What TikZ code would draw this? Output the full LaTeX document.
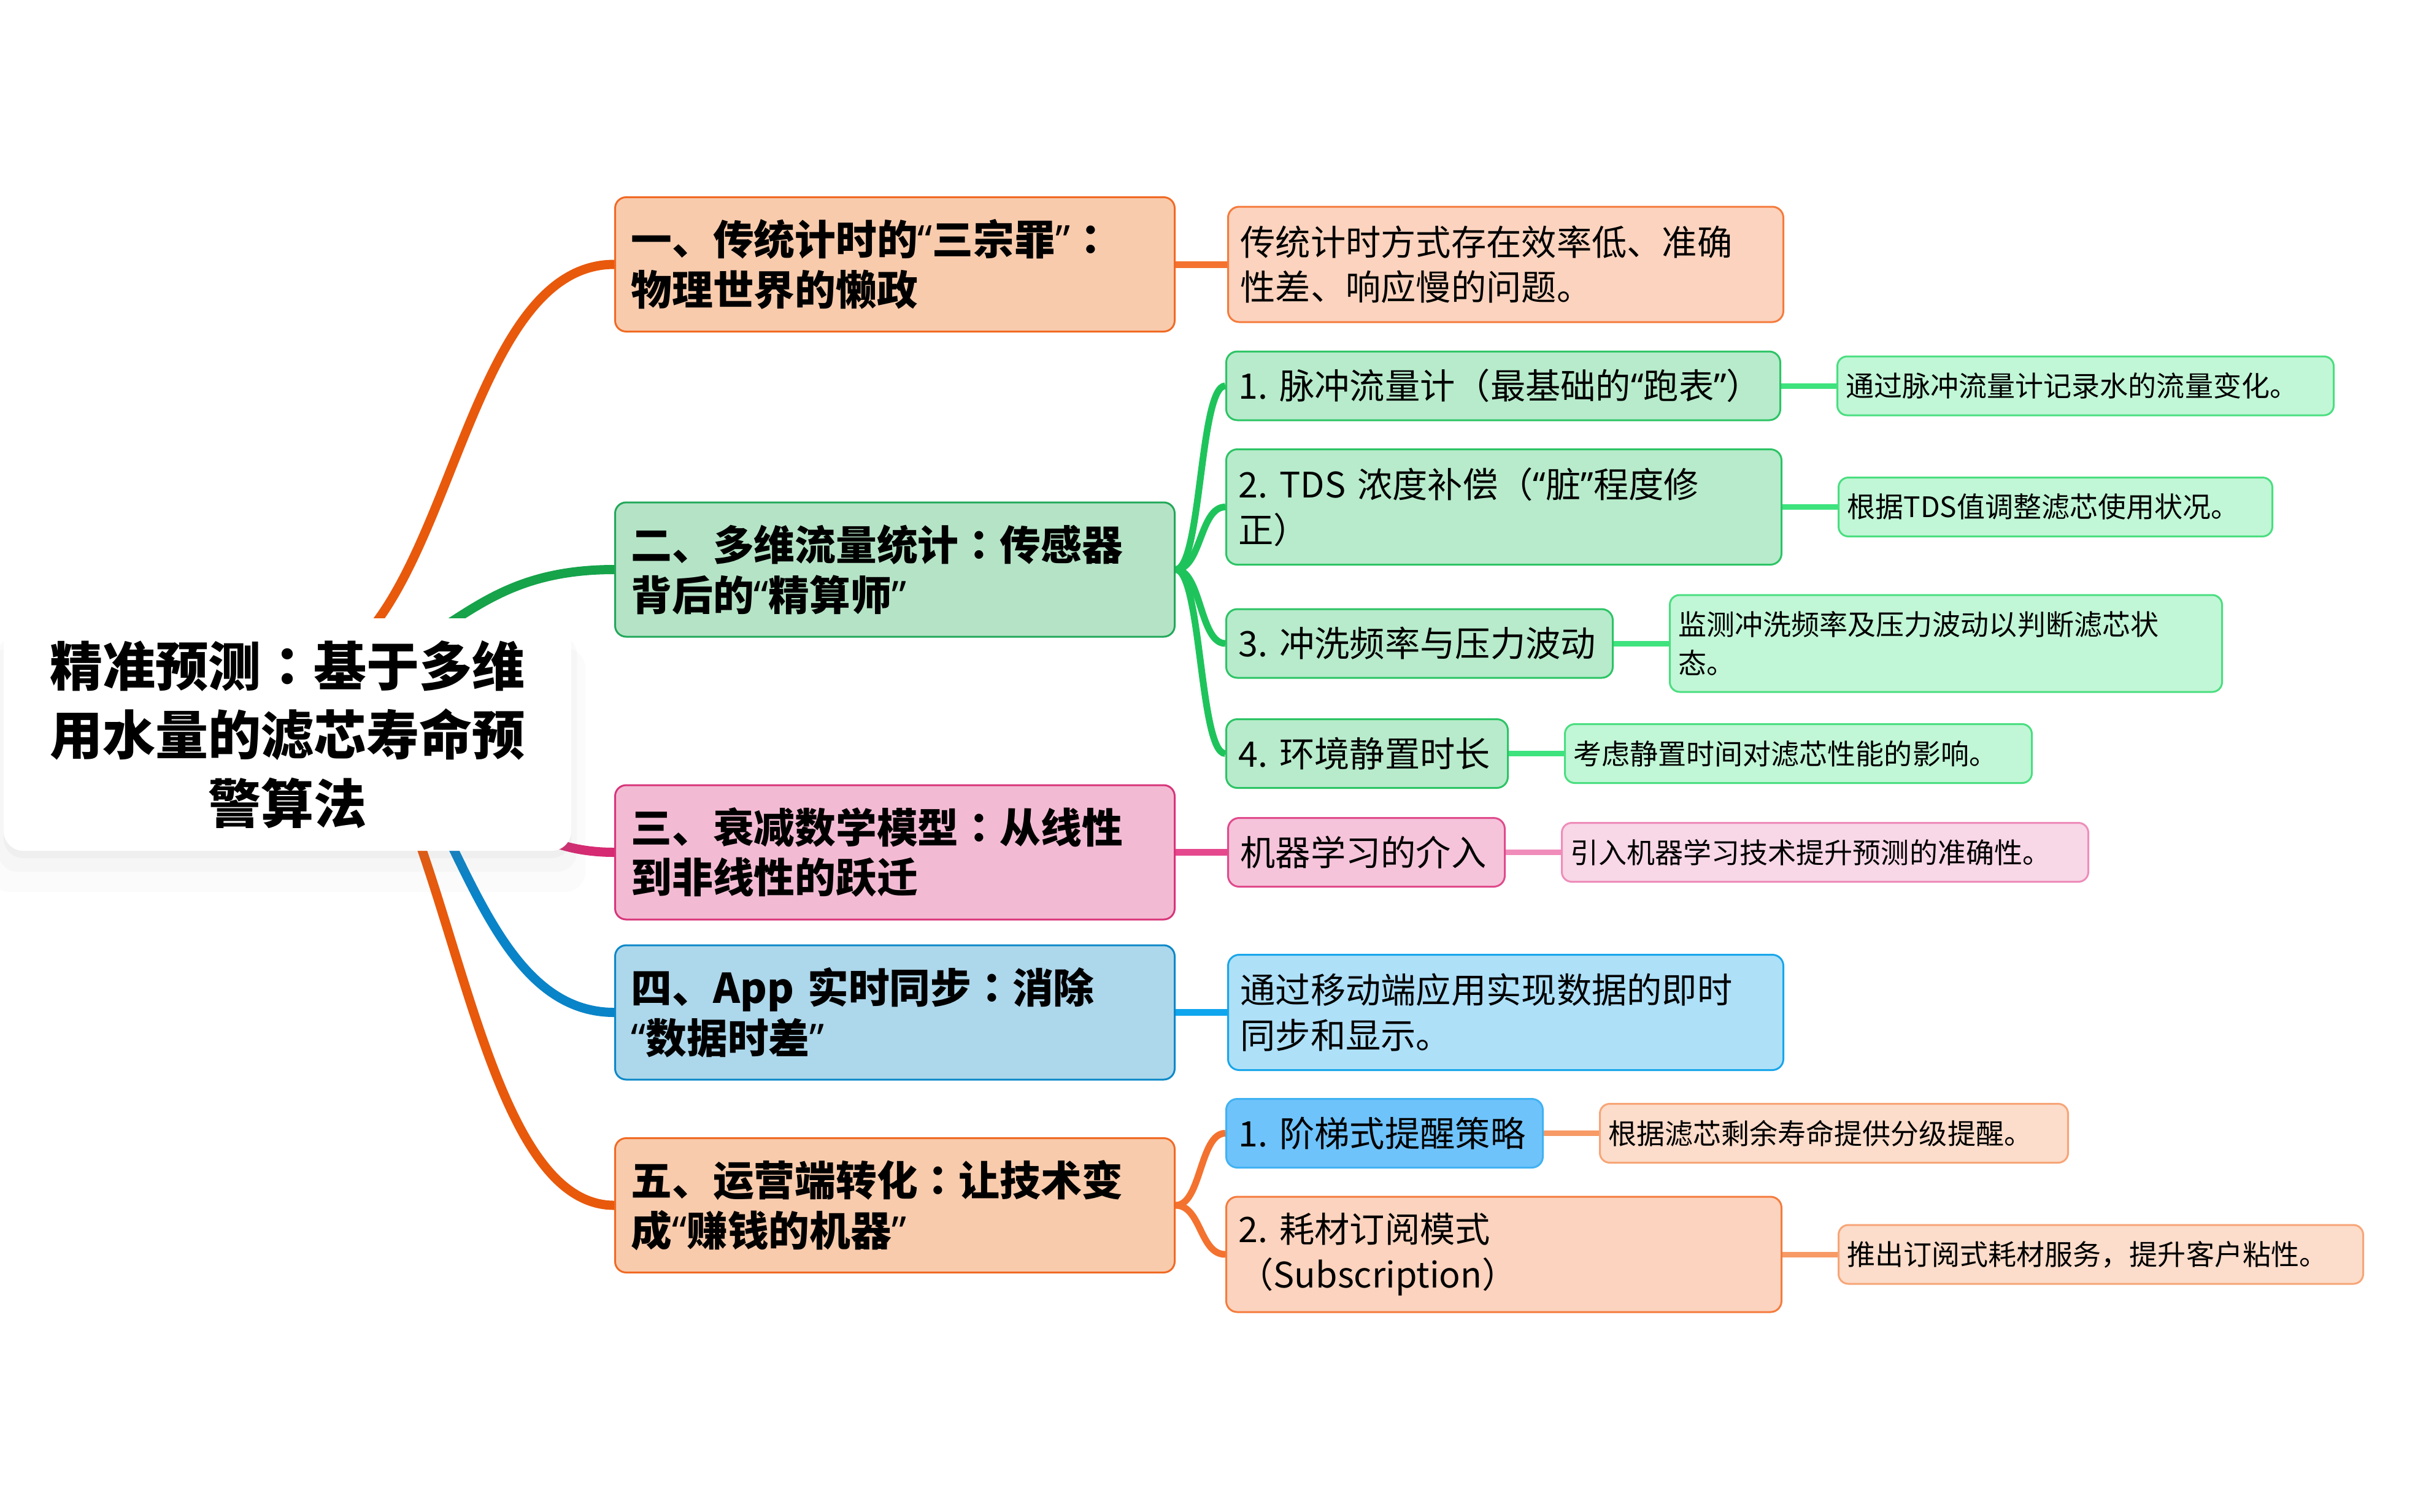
\documentclass[tikz,border=0pt]{standalone}
\usepackage{fontspec}
\setmainfont{Noto Sans CJK SC}
\newfontfamily\quotefont{Noto Sans}
\newfontfamily\tcfont{Noto Sans CJK TC}
\newcommand\qt[1]{{\quotefont “}#1{\quotefont ”}}
\newcommand\zc{{\tcfont ：}}
\usetikzlibrary{positioning, backgrounds, shadows}

% colours of the five branches
\definecolor{orTrunk}{HTML}{E8590C}
\definecolor{orFillA}{HTML}{F8CBAD}
\definecolor{orRimA}{HTML}{F06A24}
\definecolor{orTwig}{HTML}{F4722F}
\definecolor{orFillB}{HTML}{FBD3BE}
\definecolor{orRimB}{HTML}{F57B3C}
\definecolor{orFillC}{HTML}{FCDCCA}
\definecolor{orRimC}{HTML}{F7A577}
\definecolor{orStalk}{HTML}{F79A66}
\definecolor{grTrunk}{HTML}{16A34A}
\definecolor{grFillA}{HTML}{B5E3C6}
\definecolor{grRimA}{HTML}{22A85A}
\definecolor{grTwig}{HTML}{1EC45B}
\definecolor{grFillB}{HTML}{B7EBCB}
\definecolor{grRimB}{HTML}{2CC465}
\definecolor{grFillC}{HTML}{C1F6D6}
\definecolor{grRimC}{HTML}{4ADE80}
\definecolor{grStalk}{HTML}{3EE37E}
\definecolor{pkTrunk}{HTML}{D62A72}
\definecolor{pkFillA}{HTML}{F3BBD3}
\definecolor{pkRimA}{HTML}{D8357A}
\definecolor{pkTwig}{HTML}{E6488E}
\definecolor{pkFillB}{HTML}{F5C4DA}
\definecolor{pkRimB}{HTML}{E04A8C}
\definecolor{pkFillC}{HTML}{F8D7E7}
\definecolor{pkRimC}{HTML}{EE8DBA}
\definecolor{pkStalk}{HTML}{F08CBA}
\definecolor{blTrunk}{HTML}{0A84C8}
\definecolor{blFillA}{HTML}{ADD7EB}
\definecolor{blRimA}{HTML}{0C88C8}
\definecolor{blTwig}{HTML}{10A6EE}
\definecolor{blFillB}{HTML}{AEE0F8}
\definecolor{blRimB}{HTML}{18A6EA}
\definecolor{blFillC}{HTML}{6FC3FB}
\definecolor{blRimC}{HTML}{40B2F2}

\tikzset{
root topic/.style={fill=white, rounded corners=0.32cm, minimum width=9.25cm, minimum height=3.79cm, align=center, font=\fontsize{24.5}{32}\selectfont\bfseries,
  drop shadow={shadow xshift=0cm, shadow yshift=-0.12cm, opacity=0.05},
  drop shadow={shadow xshift=0cm, shadow yshift=-0.3cm, shadow scale=1.02, opacity=0.04},
  drop shadow={shadow xshift=0cm, shadow yshift=-0.55cm, shadow scale=1.05, opacity=0.03}}, % soft shadow under the centre
main topic/.style={rounded corners=0.18cm, line width=0.03cm, minimum height=2.19cm, inner xsep=0.26cm, text width=8.6cm, align=left, anchor=west, font=\fontsize{19}{23.3}\selectfont\bfseries},
sub topic/.style={rounded corners=0.18cm, line width=0.03cm, inner xsep=0.2cm, align=left, anchor=west, font=\fontsize{16.3}{20.9}\selectfont},
leaf note/.style={rounded corners=0.16cm, line width=0.03cm, inner xsep=0.14cm, minimum height=0.96cm, align=left, font=\fontsize{13.1}{17.9}\selectfont},
trunk/.style={line width=0.15cm}, % centre to main topics
twig/.style={line width=0.11cm}, % main topics to sub topics
stalk/.style={line width=0.09cm}, % sub topics to notes
sbend/.style={to path={.. controls +(#1,0) and +(-#1,0) .. (\tikztotarget)}},
sbend/.default=0.42,
}

\begin{document}
\begin{tikzpicture}
\useasboundingbox (0,0) rectangle (39.36,-24.64);

\node[root topic] (root) at (4.685,-11.975) {精准预测\zc 基于多维\\用水量的滤芯寿命预\\警算法};
\coordinate (hub) at (4.685,-11.0);

% main topics
\node[main topic, fill=orFillA, draw=orRimA] (b1) at (10.01,-4.31) {一、传统计时的\qt{三宗罪}\zc\\物理世界的懒政};
\node[main topic, fill=grFillA, draw=grRimA] (b2) at (10.01,-9.285) {二、多维流量统计\zc 传感器\\背后的\qt{精算师}};
\node[main topic, fill=pkFillA, draw=pkRimA] (b3) at (10.01,-13.895) {三、衰减数学模型\zc 从线性\\到非线性的跃迁};
\node[main topic, fill=blFillA, draw=blRimA] (b4) at (10.01,-16.505) {四、App 实时同步\zc 消除\\\qt{数据时差}};
\node[main topic, fill=orFillA, draw=orRimA] (b5) at (10.01,-19.65) {五、运营端转化\zc 让技术变\\成\qt{赚钱的机器}};

% sub topics
\node[sub topic, right=0.84cm of b1, text width=8.65cm, minimum height=1.88cm, fill=orFillB, draw=orRimB] (p1a) {传统计时方式存在效率低、准确\\性差、响应慢的问题。};
\node[sub topic, text width=8.63cm, minimum height=1.12cm, fill=grFillB, draw=grRimB] (p2a) at (19.97,-6.29) {1.~脉冲流量计（最基础的\qt{跑表}）};
\node[sub topic, text width=8.65cm, minimum height=1.88cm, fill=grFillB, draw=grRimB] (p2b) at (19.97,-8.265) {2.~TDS 浓度补偿（\qt{脏}程度修\\正）};
\node[sub topic, text width=5.9cm, minimum height=1.12cm, fill=grFillB, draw=grRimB] (p2c) at (19.97,-10.49) {3.~冲洗频率与压力波动};
\node[sub topic, text width=4.19cm, minimum height=1.12cm, fill=grFillB, draw=grRimB] (p2d) at (19.97,-12.285) {4.~环境静置时长};
\node[sub topic, right=0.84cm of b3, text width=4.11cm, minimum height=1.12cm, fill=pkFillB, draw=pkRimB] (p3a) {机器学习的介入};
\node[sub topic, right=0.84cm of b4, text width=8.65cm, minimum height=1.88cm, fill=blFillB, draw=blRimB] (p4a) {通过移动端应用实现数据的即时\\同步和显示。};
\node[sub topic, text width=4.76cm, minimum height=1.12cm, fill=blFillC, draw=blRimC] (p5a) at (19.97,-18.475) {1.~阶梯式提醒策略};
\node[sub topic, text width=8.65cm, minimum height=1.88cm, fill=orFillB, draw=orRimB] (p5b) at (19.97,-20.45) {2.~耗材订阅模式\\（Subscription）};

% notes
\node[leaf note, right=0.9cm of p2a, text width=7.81cm, fill=grFillC, draw=grRimC] (l2a) {通过脉冲流量计记录水的流量变化。};
\node[leaf note, right=0.9cm of p2b, text width=6.79cm, fill=grFillC, draw=grRimC] (l2b) {根据TDS值调整滤芯使用状况。};
\node[leaf note, right=0.9cm of p2c, text width=8.72cm, minimum height=1.58cm, fill=grFillC, draw=grRimC] (l2c) {监测冲洗频率及压力波动以判断滤芯状\\态。};
\node[leaf note, right=0.9cm of p2d, text width=7.33cm, fill=grFillC, draw=grRimC] (l2d) {考虑静置时间对滤芯性能的影响。};
\node[leaf note, right=0.9cm of p3a, text width=8.3cm, fill=pkFillC, draw=pkRimC] (l3a) {引入机器学习技术提升预测的准确性。};
\node[leaf note, right=0.9cm of p5a, text width=7.35cm, fill=orFillC, draw=orRimC] (l5a) {根据滤芯剩余寿命提供分级提醒。};
\node[leaf note, right=0.9cm of p5b, text width=8.27cm, fill=orFillC, draw=orRimC] (l5b) {推出订阅式耗材服务，提升客户粘性。};

\begin{pgfonlayer}{background}
\fill[white] (0,0) rectangle (39.36,-24.64);
\draw[trunk, sbend=2.66]
    (hub) edge[orTrunk] (b1.west)
    (hub) edge[grTrunk] (b2.west)
    (hub) edge[pkTrunk] (b3.west)
    (hub) edge[blTrunk] (b4.west)
    (hub) edge[orTrunk] (b5.west)
    ;
\draw[twig, sbend]
    (b1.east) edge[orTwig] (p1a.west)
    (b2.east) edge[grTwig] (p2a.west)
    (b2.east) edge[grTwig] (p2b.west)
    (b2.east) edge[grTwig] (p2c.west)
    (b2.east) edge[grTwig] (p2d.west)
    (b3.east) edge[pkTwig] (p3a.west)
    (b4.east) edge[blTwig] (p4a.west)
    (b5.east) edge[orTwig] (p5a.west)
    (b5.east) edge[orTwig] (p5b.west)
    ;
\draw[stalk]
    (p2a.east) edge[grStalk] (l2a.west)
    (p2b.east) edge[grStalk] (l2b.west)
    (p2c.east) edge[grStalk] (l2c.west)
    (p2d.east) edge[grStalk] (l2d.west)
    (p3a.east) edge[pkStalk] (l3a.west)
    (p5a.east) edge[orStalk] (l5a.west)
    (p5b.east) edge[orStalk] (l5b.west)
    ;
\end{pgfonlayer}
\end{tikzpicture}
\end{document}
